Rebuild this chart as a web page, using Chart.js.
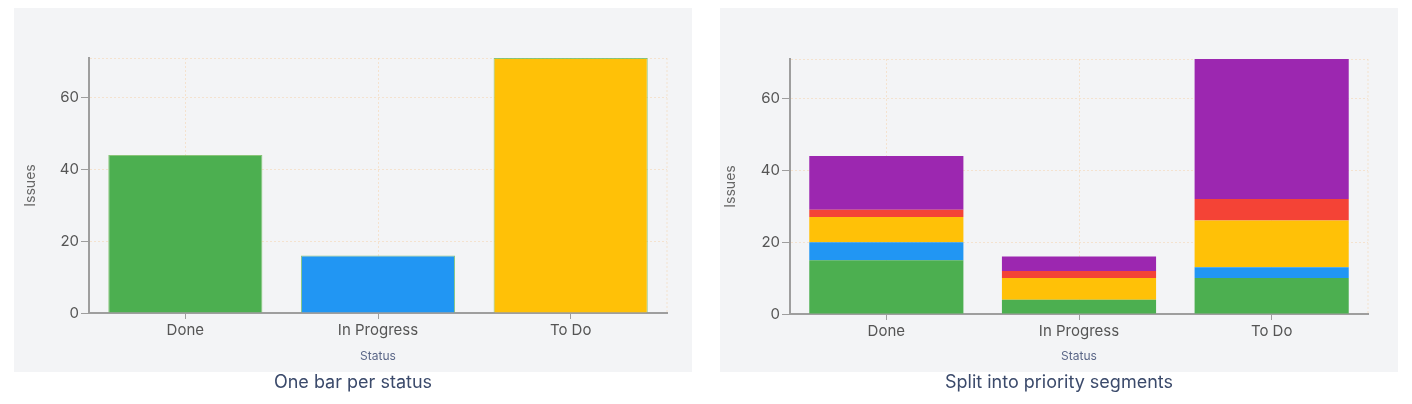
<!DOCTYPE html>
<html>
<head>
<meta charset="utf-8">
<script src="https://cdn.jsdelivr.net/npm/chart.js@4.4.1/dist/chart.umd.min.js"></script>
<style>
  body { margin: 0; background: #fff; font-family: Inter, sans-serif; }
  .panel { position: absolute; top: 8px; width: 678px; height: 364px; background: #f3f4f6; }
  .caption { position: absolute; top: 371px; width: 678px; text-align: center; font-size: 18px; line-height: 22px; color: #3b4a6b; }
</style>
</head>
<body>
<div class="panel" style="left:14px"><canvas id="chart-status"></canvas></div>
<div class="caption" style="left:14px">One bar per status</div>
<div class="panel" style="left:720px"><canvas id="chart-priority"></canvas></div>
<div class="caption" style="left:720px">Split into priority segments</div>
<script>
const statuses = ['Done', 'In Progress', 'To Do'];
const statusTotals = [44, 16, 71];
const statusColors = ['#4caf50', '#2196f3', '#ffc107'];

const priorities = ['Lowest', 'Low', 'Medium', 'High', 'Highest'];
const priorityColors = ['#4caf50', '#2196f3', '#ffc107', '#f44336', '#9c27b0'];
// one array per priority, in status order
const lowest  = [15, 4, 10];
const low     = [5, 0, 3];
const medium  = [7, 6, 13];
const high    = [2, 2, 6];
const highest = [15, 4, 39];

const yTicks = [0, 20, 40, 60];
const yMax = Math.max(...statusTotals);

const gridColor = 'rgba(245, 200, 150, 0.4)';
const axisColor = '#9e9e9e';

// dotted line along the right edge of the plot
const rightEdge = {
    id: 'rightEdge',
    beforeDatasetsDraw(chart) {
        const a = chart.chartArea, c = chart.ctx;
        c.save();
        c.strokeStyle = gridColor;
        c.lineWidth = 1;
        c.setLineDash([2, 2]);
        c.beginPath();
        c.moveTo(a.right, a.top);
        c.lineTo(a.right, a.bottom);
        c.stroke();
        c.restore();
    }
};

function makeOptions(stacked, box) {
    return {
        responsive: true,
        maintainAspectRatio: false,
        animation: false,
        layout: { padding: { top: box.top, right: box.right, left: 0, bottom: 0 } },
        plugins: { legend: { display: false }, tooltip: { enabled: false } },
        scales: {
            x: {
                stacked: stacked,
                grid: { offset: false, color: gridColor, tickColor: axisColor, tickLength: 6, tickWidth: 1 },
                border: { color: axisColor, width: 2, dash: [2, 2] },
                ticks: { color: '#555', font: { family: 'Inter', size: 15 }, padding: 2 },
                title: { display: true, text: 'Status', color: '#5b6788', font: { family: 'Inter', size: 12 }, padding: { top: 4, bottom: 8 } },
                afterFit: s => { s.height = box.xHeight; }
            },
            y: {
                stacked: stacked,
                min: 0,
                max: yMax,
                grid: {
                    color: gridColor,
                    tickColor: ctx => yTicks.includes(ctx.tick && ctx.tick.value) ? axisColor : 'rgba(0,0,0,0)',
                    tickLength: 8,
                    tickWidth: 1
                },
                border: { color: axisColor, width: 2, dash: [2, 2] },
                ticks: {
                    stepSize: 20,
                    color: '#555',
                    font: { family: 'Inter', size: 15 },
                    padding: 2,
                    callback: v => yTicks.includes(v) ? v : ''
                },
                title: { display: true, text: 'Issues', color: '#666', font: { family: 'Inter', size: 14 }, padding: { top: box.titlePad, bottom: 4 } },
                afterFit: s => { s.width = box.yWidth; }
            }
        }
    };
}

new Chart(document.getElementById('chart-status'), {
    type: 'bar',
    data: {
        labels: statuses,
        datasets: [{
            label: 'Issues',
            data: statusTotals,
            backgroundColor: statusColors,
            borderColor: 'rgba(110, 185, 90, 0.8)',
            borderWidth: 1,
            barPercentage: 0.8,
            categoryPercentage: 1
        }]
    },
    options: makeOptions(false, { top: 50, right: 25, xHeight: 59, yWidth: 75, titlePad: 8 }),
    plugins: [rightEdge]
});

const segments = [lowest, low, medium, high, highest];
new Chart(document.getElementById('chart-priority'), {
    type: 'bar',
    data: {
        labels: statuses,
        datasets: segments.map((vals, i) => ({
            label: priorities[i],
            data: vals,
            backgroundColor: priorityColors[i],
            borderWidth: 0,
            barPercentage: 0.8,
            categoryPercentage: 1
        }))
    },
    options: makeOptions(true, { top: 51, right: 30, xHeight: 58, yWidth: 70, titlePad: 2 }),
    plugins: [rightEdge]
});
</script>
</body>
</html>
